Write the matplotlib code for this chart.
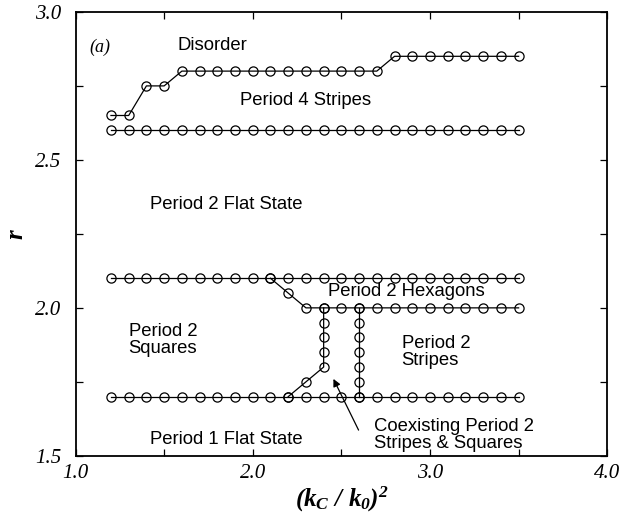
import matplotlib.pyplot as plt
from matplotlib.ticker import MultipleLocator, FuncFormatter

plt.rcParams['font.family'] = 'Liberation Sans'
plt.rcParams['mathtext.fontset'] = 'custom'
plt.rcParams['mathtext.it'] = 'Liberation Serif:italic:bold'
plt.rcParams['mathtext.rm'] = 'Liberation Serif:italic:bold'

# wavenumber grid used for every boundary
kk = [1.2, 1.3, 1.4, 1.5, 1.6, 1.7, 1.8, 1.9, 2.0, 2.1, 2.2, 2.3,
      2.4, 2.5, 2.6, 2.7, 2.8, 2.9, 3.0, 3.1, 3.2, 3.3, 3.4, 3.5]

# disorder / period 4 stripes boundary
r_disorder = [2.65, 2.65, 2.75, 2.75, 2.8, 2.8, 2.8, 2.8, 2.8, 2.8, 2.8, 2.8,
              2.8, 2.8, 2.8, 2.8, 2.85, 2.85, 2.85, 2.85, 2.85, 2.85, 2.85, 2.85]
r_p4 = [2.6] * len(kk)
r_p2flat = [2.1] * len(kk)
r_p1flat = [1.7] * len(kk)

# hexagon / stripes boundary, starting where it leaves the r=2.1 line
k_hex = [2.1, 2.2, 2.3, 2.4, 2.5, 2.6, 2.7, 2.8, 2.9, 3.0, 3.1, 3.2, 3.3, 3.4, 3.5]
r_hex = [2.1, 2.05, 2.0, 2.0, 2.0, 2.0, 2.0, 2.0, 2.0, 2.0, 2.0, 2.0, 2.0, 2.0, 2.0]

# squares edge of the coexistence region
k_sq = [2.2, 2.3, 2.4, 2.4, 2.4, 2.4, 2.4]
r_sq = [1.7, 1.75, 1.8, 1.85, 1.9, 1.95, 2.0]

# stripes edge of the coexistence region
k_st = [2.6, 2.6, 2.6, 2.6, 2.6, 2.6, 2.6]
r_st = [1.7, 1.75, 1.8, 1.85, 1.9, 1.95, 2.0]

fig = plt.figure(figsize=(6.19, 5.18), dpi=100)
ax = fig.add_axes([0.122, 0.12, 0.859, 0.857])

style = dict(color='black', lw=0.9, marker='o', ms=6.6, mfc='none', mec='black', mew=0.9)
for k, r in [(kk, r_disorder), (kk, r_p4), (kk, r_p2flat), (kk, r_p1flat),
             (k_hex, r_hex), (k_sq, r_sq), (k_st, r_st)]:
    ax.plot(k, r, **style)

ax.set_xlim(1.0, 4.0)
ax.set_ylim(1.5, 3.0)
ax.xaxis.set_major_locator(MultipleLocator(0.5))
ax.yaxis.set_major_locator(MultipleLocator(0.25))


def every_other(step):
    def fmt(v, pos):
        if abs(v / step - round(v / step)) < 1e-6:
            return f'{v:.1f}'
        return ''
    return FuncFormatter(fmt)


ax.xaxis.set_major_formatter(every_other(1.0))
ax.yaxis.set_major_formatter(every_other(0.5))
ax.tick_params(direction='in', top=True, right=True, length=5, width=0.9,
               labelsize=15)
ax.tick_params(axis='y', pad=10)
ax.tick_params(axis='x', pad=6)
for lab in ax.get_xticklabels() + ax.get_yticklabels():
    lab.set_family('Liberation Serif')
    lab.set_style('italic')
for s in ax.spines.values():
    s.set_linewidth(1.3)

ax.set_xlabel(r'$(k_C\ /\ k_0)^2$', fontsize=18, labelpad=1)
ax.set_ylabel('r', fontsize=18, family='Liberation Serif', style='italic',
              weight='bold', rotation=90, va='center')
ax.yaxis.set_label_coords(-0.112, 0.5)

fs = 13.3
ax.text(1.14, 2.88, '(a)', fontsize=13, family='Liberation Serif', style='italic',
        ha='center', va='center')
ax.text(1.77, 2.885, 'Disorder', fontsize=fs, ha='center', va='center')
ax.text(2.30, 2.70, 'Period 4 Stripes', fontsize=fs, ha='center', va='center')
ax.text(1.85, 2.35, 'Period 2 Flat State', fontsize=fs, ha='center', va='center')
ax.text(2.865, 2.054, 'Period 2 Hexagons', fontsize=fs, ha='center', va='center')
ax.text(1.30, 1.893, 'Period 2\nSquares', fontsize=fs, ha='left', va='center',
        linespacing=1.0)
ax.text(2.84, 1.85, 'Period 2\nStripes', fontsize=fs, ha='left', va='center',
        linespacing=1.0)
ax.text(1.85, 1.556, 'Period 1 Flat State', fontsize=fs, ha='center', va='center')
ax.text(2.685, 1.57, 'Coexisting Period 2\nStripes & Squares', fontsize=fs,
        ha='left', va='center', linespacing=1.0)
ax.annotate('', xy=(2.455, 1.76), xytext=(2.597, 1.587),
            arrowprops=dict(arrowstyle='-|>', color='black', lw=0.9,
                            mutation_scale=11, shrinkA=0, shrinkB=0))

fig.savefig('out.png', dpi=100)
